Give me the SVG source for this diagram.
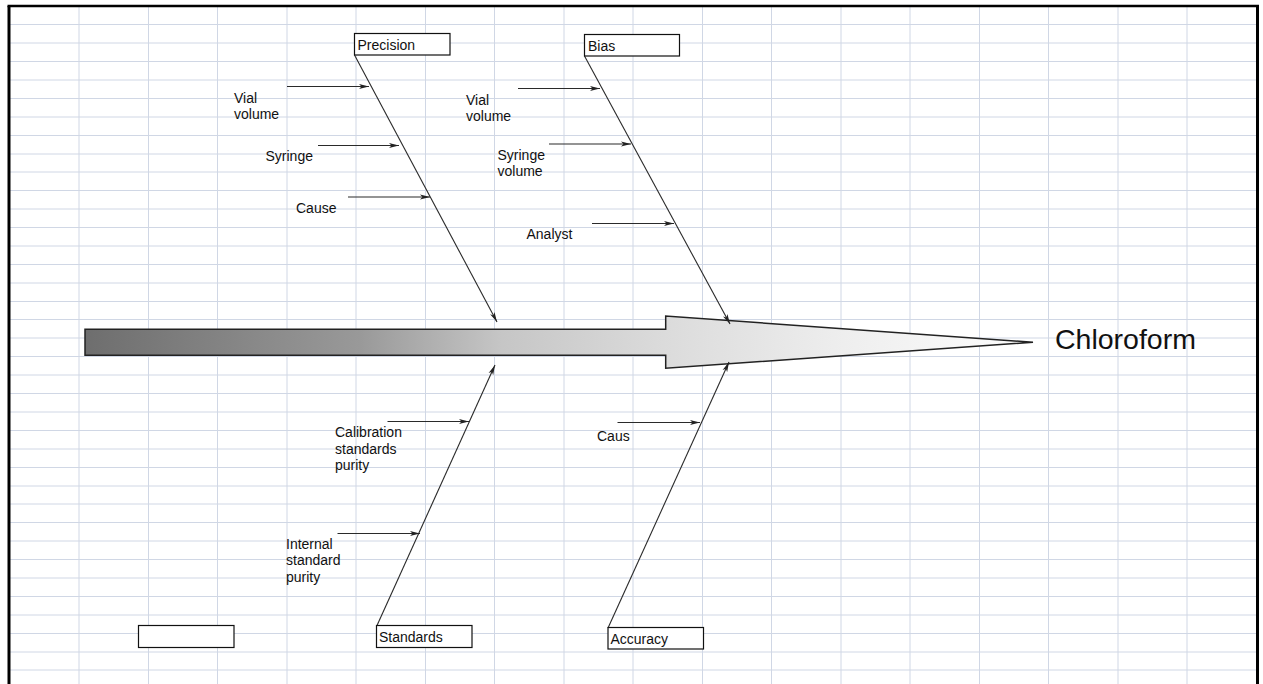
<svg xmlns="http://www.w3.org/2000/svg" width="1263" height="684" viewBox="0 0 1263 684">
  <style>
    .grid { stroke: #d0d7e5; stroke-width: 1; fill: none; }
    .box { fill: #ffffff; stroke: #111; stroke-width: 1.2; }
    .lbl { font-family: "Liberation Sans", Arial, sans-serif; font-size: 14px; fill: #111; }
    .big { font-family: "Liberation Sans", Arial, sans-serif; font-size: 28.5px; fill: #111; }
    .bone { stroke: #2a2a2a; stroke-width: 1.1; fill: none; marker-end: url(#ah); }
    .cause { stroke: #2a2a2a; stroke-width: 1.1; fill: none; marker-end: url(#ah); }
    .frame { stroke: #000; fill: none; }
  </style>
  <defs>
    <marker id="ah" markerUnits="userSpaceOnUse" markerWidth="11" markerHeight="6" refX="10" refY="3" orient="auto">
      <path d="M0,0.5 L10,3 L0,5.5 L2.5,3 z" fill="#222"/>
    </marker>
    <linearGradient id="spineGrad" x1="0" y1="0" x2="1" y2="0">
      <stop offset="0" stop-color="#6e6e6e"/>
      <stop offset="0.29" stop-color="#999999"/>
      <stop offset="0.44" stop-color="#c6c6c6"/>
      <stop offset="0.61" stop-color="#dbdbdb"/>
      <stop offset="0.8" stop-color="#eeeeee"/>
      <stop offset="1" stop-color="#fdfdfd"/>
    </linearGradient>
  </defs>

  <rect x="0" y="0" width="1263" height="684" fill="#ffffff"/>

  <g id="grid" class="grid">
    <path d="M79,7V684 M148.5,7V684 M217.5,7V684 M287,7V684 M356,7V684 M425.5,7V684 M494.5,7V684 M564,7V684 M633,7V684 M702.5,7V684 M771.5,7V684 M841,7V684 M910,7V684 M979.5,7V684 M1048.5,7V684 M1118,7V684 M1187,7V684"/>
    <path d="M10,24.5H1256 M10,43H1256 M10,61.5H1256 M10,80H1256 M10,98.5H1256 M10,117H1256 M10,135.5H1256 M10,154H1256 M10,172H1256 M10,190.5H1256 M10,209H1256 M10,227.5H1256 M10,246H1256 M10,264.5H1256 M10,283H1256 M10,301.5H1256 M10,319.5H1256 M10,338H1256 M10,356.5H1256 M10,375H1256 M10,393.5H1256 M10,412H1256 M10,430.5H1256 M10,449H1256 M10,467.5H1256 M10,486H1256 M10,504H1256 M10,522.5H1256 M10,541H1256 M10,559.5H1256 M10,578H1256 M10,596.5H1256 M10,615H1256 M10,633.5H1256 M10,652H1256 M10,670H1256"/>
  </g>

  <g id="frame" class="frame">
    <path d="M9,684V6" stroke-width="3"/>
    <path d="M7.5,6H1259" stroke-width="2.5"/>
    <path d="M1257.5,5V684" stroke-width="3"/>
  </g>

  <g id="spine">
    <polygon points="85,329.3 665.7,329.3 665.7,316 1033,342.3 665.7,368.3 665.7,355.3 85,355.3" fill="url(#spineGrad)" stroke="#222" stroke-width="1.5" stroke-linejoin="miter"/>
  </g>

  <g id="head">
    <text class="big" x="1055" y="348.5">Chloroform</text>
  </g>

  <g id="connectors">
    <line class="bone" x1="354.5" y1="55" x2="497" y2="322"/>
    <line class="bone" x1="584.5" y1="56" x2="730" y2="324"/>
    <line class="bone" x1="377" y1="625.5" x2="495" y2="365"/>
    <line class="bone" x1="608" y1="628" x2="729" y2="362"/>

    <line class="cause" x1="287" y1="86.5" x2="369" y2="86.5"/>
    <line class="cause" x1="318" y1="145.5" x2="399" y2="145.5"/>
    <line class="cause" x1="348" y1="197" x2="430" y2="197"/>

    <line class="cause" x1="518" y1="88.5" x2="600" y2="88.5"/>
    <line class="cause" x1="549" y1="144" x2="631" y2="144"/>
    <line class="cause" x1="592" y1="223.5" x2="674" y2="223.5"/>

    <line class="cause" x1="387.5" y1="421.5" x2="469" y2="421.5"/>
    <line class="cause" x1="337.5" y1="533.5" x2="420" y2="533.5"/>

    <line class="cause" x1="617.5" y1="422.5" x2="700" y2="422.5"/>
  </g>

  <g id="precision">
    <rect class="box" x="354.5" y="33.5" width="95.5" height="21.5"/>
    <text class="lbl" x="357.5" y="49.5">Precision</text>
  </g>
  <g id="bias">
    <rect class="box" x="584.5" y="34.5" width="95" height="21.5"/>
    <text class="lbl" x="588" y="50.5">Bias</text>
  </g>
  <g id="standards">
    <rect class="box" x="376.5" y="625.5" width="95.5" height="22"/>
    <text class="lbl" x="379" y="641.5">Standards</text>
  </g>
  <g id="accuracy">
    <rect class="box" x="608" y="627.5" width="95.5" height="21.5"/>
    <text class="lbl" x="610.5" y="644">Accuracy</text>
  </g>
  <g id="empty-box">
    <rect class="box" x="138.5" y="625.5" width="95.5" height="22"/>
  </g>

  <g id="cause-precision-vial">
    <text class="lbl" x="234" y="102.5">Vial</text>
    <text class="lbl" x="234" y="118.5">volume</text>
  </g>
  <g id="cause-precision-syringe">
    <text class="lbl" x="265.5" y="161">Syringe</text>
  </g>
  <g id="cause-precision-cause">
    <text class="lbl" x="296" y="213">Cause</text>
  </g>
  <g id="cause-bias-vial">
    <text class="lbl" x="466" y="104.5">Vial</text>
    <text class="lbl" x="466" y="120.5">volume</text>
  </g>
  <g id="cause-bias-syringe">
    <text class="lbl" x="497.5" y="159.5">Syringe</text>
    <text class="lbl" x="497.5" y="175.5">volume</text>
  </g>
  <g id="cause-bias-analyst">
    <text class="lbl" x="526.5" y="239">Analyst</text>
  </g>
  <g id="cause-standards-calibration">
    <text class="lbl" x="335" y="437">Calibration</text>
    <text class="lbl" x="335" y="453.5">standards</text>
    <text class="lbl" x="335" y="470">purity</text>
  </g>
  <g id="cause-standards-internal">
    <text class="lbl" x="286" y="548.5">Internal</text>
    <text class="lbl" x="286" y="565">standard</text>
    <text class="lbl" x="286" y="581.5">purity</text>
  </g>
  <g id="cause-accuracy-caus">
    <text class="lbl" x="597" y="441">Caus</text>
  </g>
</svg>
